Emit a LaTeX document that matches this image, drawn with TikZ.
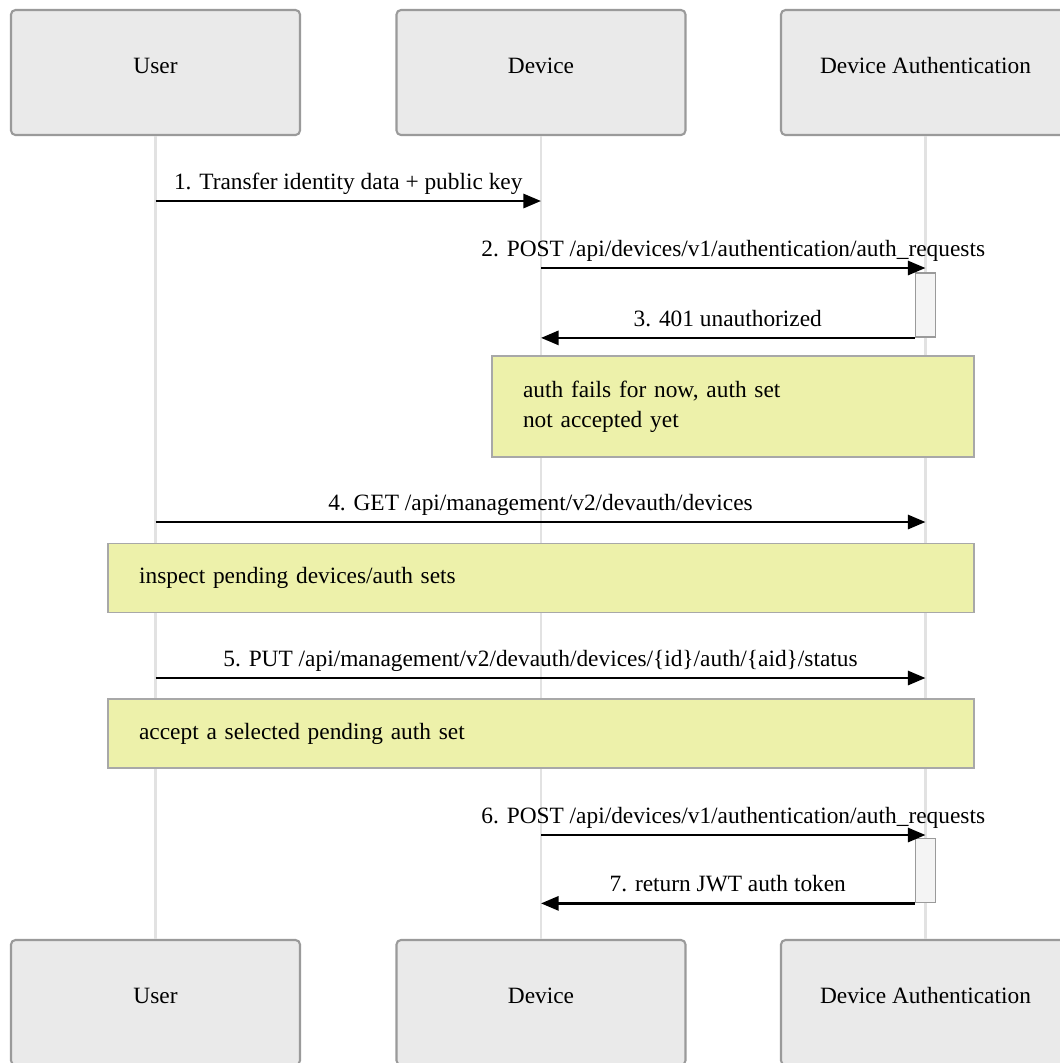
\documentclass[tikz,border=0pt]{standalone}
\usepackage{fontspec}
\setmainfont{Liberation Serif}
\usetikzlibrary{arrows.meta,positioning}
\definecolor{actfill}{HTML}{EAEAEA}
\definecolor{actline}{HTML}{9A9A9A}
\definecolor{lifeline}{HTML}{E2E2E2}
\definecolor{notefill}{HTML}{EDF1AA}
\definecolor{noteline}{HTML}{A8A8A8}
\definecolor{barfill}{HTML}{F4F4F4}
\newcommand{\seqfont}{\fontsize{13.3}{17}\selectfont}
\tikzset{
  actor/.style={draw=actline, fill=actfill, line width=1.2pt, rounded corners=2.5pt,
    minimum width=5.78cm, minimum height=2.5cm, inner sep=0pt,
    text height=9.5pt, text depth=8.5pt, font=\seqfont},
  life/.style={draw=lifeline, line width=1.7pt},
  msg/.style={draw=black, line width=1.5pt, -{Triangle[length=10pt,width=8pt]}},
  lbl/.style={font=\seqfont, inner sep=1pt, above=2pt, text depth=3pt},
  note/.style={draw=noteline, fill=notefill, line width=1pt, align=left,
    inner xsep=0.62cm, font=\seqfont},
  bar/.style={draw=actline, fill=barfill, line width=1pt, inner sep=0pt,
    minimum width=0.4cm, minimum height=1.28cm},
}

\begin{document}
\begin{tikzpicture}[x=0.02cm, y=-0.02cm]
  \useasboundingbox (0,0) rectangle (1060,1063);
  \clip (0,0) rectangle (1060,1063);

  % participants, top and bottom
  \foreach \n/\t/\x in {user/User/155.5, dev/Device/541, auth/Device Authentication/925.5} {
    \node[actor] (\n-top) at (\x,72.5) {\t};
    \node[actor] (\n-bot) at (\x,1002.5) {\t};
    \draw[life] (\n-top.south) -- (\n-bot.north);
  }

  % activations
  \node[bar] (act1) at (925.5,305) {};
  \node[bar] (act2) at (925.5,870.5) {};

  % message end points on the lifelines
  \coordinate (u1) at (user-top |- 0,201);
  \coordinate (d1) at (dev-top |- 0,201);
  \coordinate (d2) at (dev-top |- 0,268);
  \coordinate (a2) at (auth-top |- 0,268);
  \coordinate (d3) at (dev-top |- act1.south);
  \coordinate (u4) at (user-top |- 0,522);
  \coordinate (a4) at (auth-top |- 0,522);
  \coordinate (u5) at (user-top |- 0,678);
  \coordinate (a5) at (auth-top |- 0,678);
  \coordinate (d6) at (dev-top |- 0,835);
  \coordinate (a6) at (auth-top |- 0,835);
  \coordinate (d7) at (dev-top |- act2.south);

  \draw[msg] (u1) -- node[lbl] {1. Transfer identity data + public key} (d1);
  \draw[msg] (d2) -- node[lbl] {2. POST /api/devices/v1/authentication/auth\_requests} (a2);
  \draw[msg] (act1.south west) -- node[lbl] {3. 401 unauthorized} (d3);
  \draw[msg] (u4) -- node[lbl] {4. GET /api/management/v2/devauth/devices} (a4);
  \draw[msg] (u5) -- node[lbl] {5. PUT /api/management/v2/devauth/devices/\{id\}/auth/\{aid\}/status} (a5);
  \draw[msg] (d6) -- node[lbl] {6. POST /api/devices/v1/authentication/auth\_requests} (a6);
  \draw[msg] (act2.south west) -- node[lbl] {7. return JWT auth token} (d7);

  % notes
  \node[note, text width=8.4cm, minimum height=2.02cm] (note1) at (733,406.5)
    {auth fails for now, auth set\\not accepted yet};
  \node[note, text width=16.08cm, minimum height=1.38cm] (note2) at (541,578)
    {inspect pending devices/auth sets};
  \node[note, text width=16.08cm, minimum height=1.38cm] (note3) at (541,733.5)
    {accept a selected pending auth set};
\end{tikzpicture}
\end{document}
